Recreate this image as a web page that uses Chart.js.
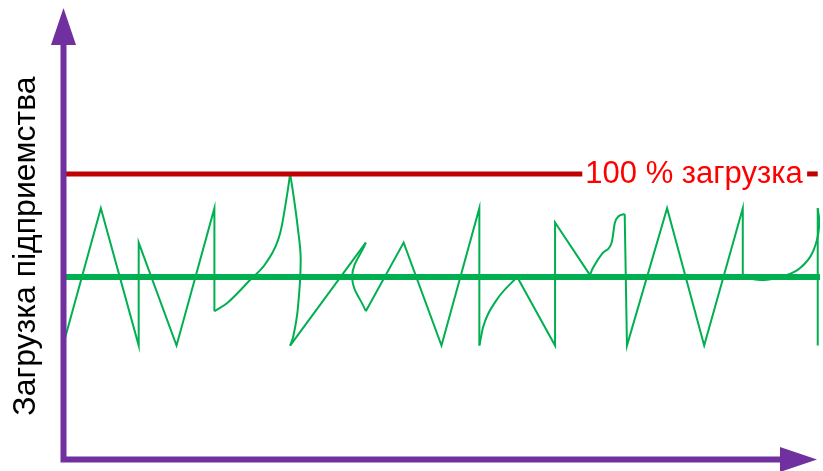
<!DOCTYPE html>
<html>
<head>
<meta charset="utf-8">
<script src="https://cdn.jsdelivr.net/npm/chart.js@4"></script>
<style>
    html, body { margin: 0; padding: 0; background: #fff; }
</style>
</head>
<body>
<canvas id="chart" width="823" height="471"></canvas>
<script>
// загрузка по времени: x - время (0..100), y - загрузка в %
const fullLoad = 100;
const avgLoad = 64;
const fullLabel = '100 % загрузка';
const yTitle = 'Загрузка підприемства';

// прямые участки
const zig1 = [[0, 40], [5, 88], [10, 40], [10, 76], [15, 40], [20, 88], [20, 52]];
const zig2 = [[30, 40], [40, 76]];
const zig3 = [[40, 52], [45, 76], [50, 40], [55, 88], [55, 40]];
const zig4 = [[60, 64], [65, 40], [65, 83], [69.6, 64.7]];
const zig5 = [[74.2, 86], [74.5, 40], [79.8, 88], [84.7, 40], [89.8, 88], [89.8, 64]];
const zig6 = [[99.7, 88], [99.7, 40]];

// кривые участки (по x монотонные)
const curve1 = [[20, 52], [21.7, 54.9], [24.7, 62.9], [26.9, 69.2], [28.7, 79.4], [29.7, 94.4], [30, 100]];
const curve4 = [[55, 40], [55.5, 46.5], [57.3, 56], [60, 64]];
const curve5 = [[69.6, 64.7], [70.0, 67.1], [71.3, 72.4], [72.5, 76.2], [72.9, 82.9], [73.4, 85.2], [74.2, 86]];
// кривые участки (петли)
const curve2 = [[30, 100], [30.4, 93.4], [31.0, 81.5], [31.4, 69.9], [31.0, 52.4], [30.4, 43], [30, 40]];
const curve3 = [[40, 76], [38.2, 64], [40, 52]];
const curve6 = [[89.8, 64], [92.1, 62.9], [94.7, 64], [97.0, 66.4], [98.7, 71], [99.6, 76.9], [99.9, 82.9], [99.7, 88]];

const redLine = [[0, fullLoad], [68.6, fullLoad]];
const redDash = [[98.3, fullLoad], [99.7, fullLoad]];
const avgLine = [[0, avgLoad], [100, avgLoad]];

const green = '#00B050';
const red = '#C00000';
const purple = '#7030A0';

function pts(arr) {
    return arr.map(p => ({ x: p[0], y: p[1] }));
}

function line(arr, color, width, tension, mode) {
    return {
        data: pts(arr),
        borderColor: color,
        borderWidth: width,
        tension: tension,
        cubicInterpolationMode: mode || 'default',
        pointRadius: 0,
        fill: false
    };
}

const datasets = [
    line(avgLine, green, 6, 0),
    line(redLine, red, 5, 0),
    line(redDash, red, 5, 0),
    ...[zig1, zig2, zig3, zig4, zig5, zig6].map(z => line(z, green, 2, 0)),
    ...[curve1, curve4, curve5].map(c => line(c, green, 2, 0.4, 'monotone')),
    ...[curve2, curve3, curve6].map(c => line(c, green, 2, 0.4))
];

// оси со стрелками и подписи
const decor = {
    id: 'decor',
    afterDatasetsDraw(chart) {
        const c = chart.ctx;
        const xs = chart.scales.x, ys = chart.scales.y;
        const x0 = xs.getPixelForValue(0) + 0.5;
        const y0 = ys.getPixelForValue(0) - 0.5;

        c.save();
        c.strokeStyle = purple;
        c.fillStyle = purple;
        c.lineWidth = 6;
        c.lineJoin = 'miter';
        c.beginPath();
        c.moveTo(x0, 44);
        c.lineTo(x0, y0);
        c.lineTo(781, y0);
        c.stroke();

        c.beginPath();
        c.moveTo(x0, 8);
        c.lineTo(x0 - 12.5, 45);
        c.lineTo(x0 + 12.5, 45);
        c.closePath();
        c.fill();

        c.beginPath();
        c.moveTo(817, y0);
        c.lineTo(780, y0 - 12.5);
        c.lineTo(780, y0 + 12.5);
        c.closePath();
        c.fill();

        c.fillStyle = '#FF0000';
        c.font = '31px "Liberation Sans", Arial, sans-serif';
        c.textAlign = 'left';
        c.textBaseline = 'alphabetic';
        c.fillText(fullLabel, xs.getPixelForValue(69), ys.getPixelForValue(fullLoad) + 9);

        c.fillStyle = '#000';
        c.font = '32px "Liberation Sans", Arial, sans-serif';
        c.translate(35, 246);
        c.rotate(-Math.PI / 2);
        c.textAlign = 'center';
        c.fillText(yTitle, 0, 0);
        c.restore();
    }
};

const ctx = document.getElementById('chart').getContext('2d');
new Chart(ctx, {
    type: 'line',
    data: { datasets: datasets },
    options: {
        responsive: false,
        animation: false,
        devicePixelRatio: 1,
        layout: { padding: { left: 63, right: 3, top: 8, bottom: 11 } },
        plugins: { legend: { display: false }, tooltip: { enabled: false } },
        scales: {
            x: { type: 'linear', min: 0, max: 100, display: false },
            y: { type: 'linear', min: 0, max: 158, display: false }
        }
    },
    plugins: [decor]
});
</script>
</body>
</html>
